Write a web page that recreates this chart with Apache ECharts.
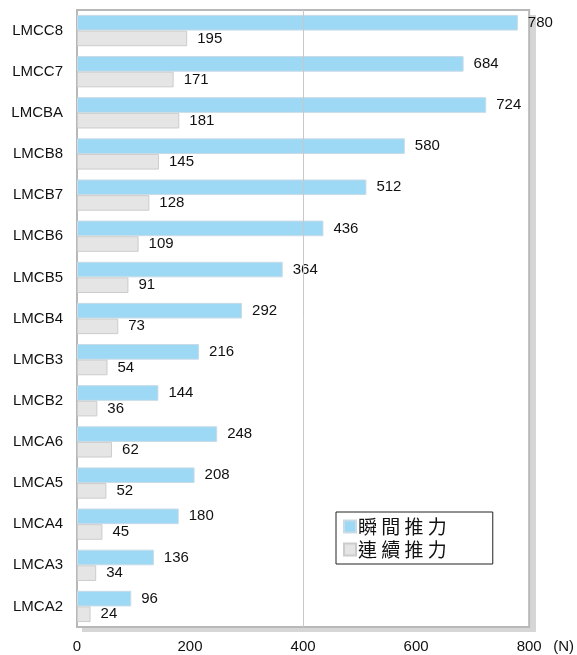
<!DOCTYPE html>
<html>
<head>
<meta charset="utf-8">
<script src="https://cdn.jsdelivr.net/npm/echarts@6/dist/echarts.min.js"></script>
<style>
  html, body { margin: 0; padding: 0; background: #fff; }
  #chart { width: 577px; height: 655px; }
</style>
</head>
<body>
<div id="chart"></div>
<script>
// Motor models, listed top to bottom
const models = ['LMCC8', 'LMCC7', 'LMCBA', 'LMCB8', 'LMCB7', 'LMCB6', 'LMCB5', 'LMCB4',
                'LMCB3', 'LMCB2', 'LMCA6', 'LMCA5', 'LMCA4', 'LMCA3', 'LMCA2'];
// Peak force (N)
const peakForce = [780, 684, 724, 580, 512, 436, 364, 292, 216, 144, 248, 208, 180, 136, 96];
// Continuous force (N)
const contForce = [195, 171, 181, 145, 128, 109, 91, 73, 54, 36, 62, 52, 45, 34, 24];
const xTicks = [0, 200, 400, 600, 800];

const font = '"Liberation Sans", Arial, sans-serif';
const cjkFont = '"Noto Sans CJK TC", "Noto Sans CJK SC", sans-serif';

// plot frame
const W = 577, H = 655;
const gridLeft = 77, gridRight = 46, gridTop = 10, gridBottom = 28;
const shadowOffset = 5;

const chart = echarts.init(document.getElementById('chart'));

function barLabel() {
  return {
    show: true,
    position: 'right',
    distance: 10,
    color: '#111',
    fontSize: 15,
    fontFamily: font
  };
}

chart.setOption({
  animation: false,
  graphic: [{
    type: 'rect',
    z: -1,
    silent: true,
    shape: {
      x: gridLeft + shadowOffset,
      y: gridTop + shadowOffset,
      width: W - gridLeft - gridRight,
      height: H - gridTop - gridBottom
    },
    style: { fill: '#d6d6d6' }
  }],
  grid: {
    left: gridLeft, right: gridRight, top: gridTop, bottom: gridBottom,
    show: true,
    backgroundColor: '#fff',
    borderColor: '#b8b8b8',
    borderWidth: 2
  },
  legend: {
    orient: 'vertical',
    left: 336, top: 512,
    backgroundColor: '#fff',
    borderColor: '#222',
    borderWidth: 1,
    borderRadius: 0,
    padding: [5, 46, 5, 7],
    itemWidth: 12,
    itemHeight: 12,
    itemGap: 4,
    icon: 'rect',
    formatter: name => name.split('').join(' '),
    textStyle: { fontSize: 19, fontFamily: cjkFont, color: '#111', padding: [0, 0, 0, -3] },
    data: ['瞬間推力', '連續推力']
  },
  xAxis: {
    type: 'value',
    min: 0, max: 800, interval: 200,
    name: '(N)',
    nameLocation: 'end',
    nameGap: 24,
    nameTextStyle: { fontSize: 15, fontFamily: font, color: '#111', verticalAlign: 'top', padding: [12, 0, 0, 0] },
    axisLine: { show: false },
    axisTick: { show: false },
    splitLine: { show: false },
    axisLabel: {
      margin: 12, fontSize: 15, fontFamily: font, color: '#111',
      customValues: xTicks
    }
  },
  yAxis: {
    type: 'category',
    inverse: true,
    data: models,
    axisLine: { show: false },
    axisTick: { show: false },
    axisLabel: { margin: 14, fontSize: 15, fontFamily: font, color: '#111' }
  },
  series: [
    {
      name: '瞬間推力',
      type: 'bar',
      data: peakForce,
      barCategoryGap: '24%',
      barGap: '0%',
      itemStyle: { color: '#9dd8f5', borderColor: '#c8dbe6', borderWidth: 1 },
      label: barLabel(),
      markLine: {
        silent: true,
        symbol: 'none',
        label: { show: false },
        lineStyle: { color: '#c8c8c8', type: 'solid', width: 1 },
        data: [{ xAxis: 400 }]
      },
      z: 3
    },
    {
      name: '連續推力',
      type: 'bar',
      data: contForce,
      barCategoryGap: '24%',
      barGap: '0%',
      itemStyle: { color: '#e5e5e5', borderColor: '#cccccc', borderWidth: 1 },
      label: barLabel(),
      z: 3
    }
  ]
});
</script>
</body>
</html>
